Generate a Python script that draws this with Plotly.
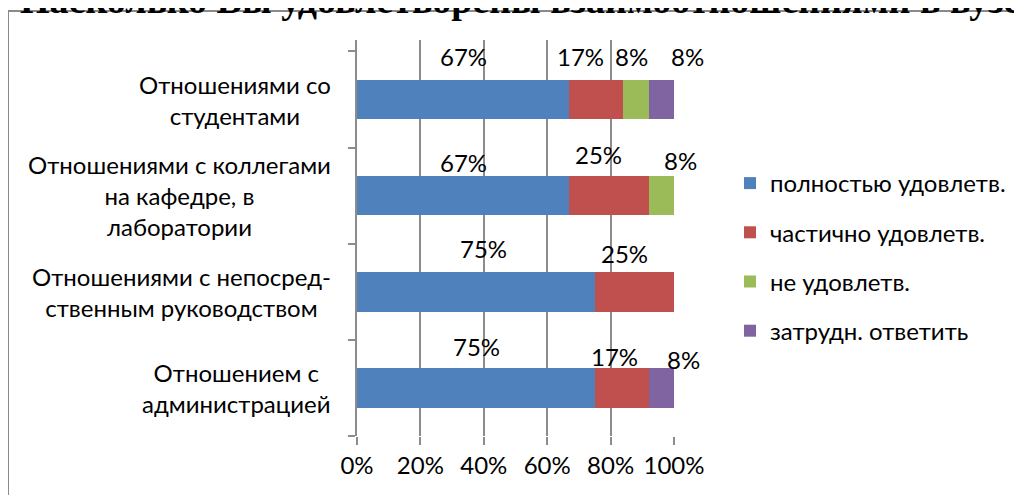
import plotly.graph_objects as go

categories = [
    "Отношениями со<br>студентами",
    "Отношениями с коллегами<br>на кафедре, в<br>лаборатории",
    "Отношениями с непосред-<br>ственным руководством",
    "Отношением с<br>администрацией",
]
series_names = ["полностью удовлетв.", "частично удовлетв.", "не удовлетв.", "затрудн. ответить"]
values = {
    "полностью удовлетв.": [67, 67, 75, 75],
    "частично удовлетв.": [17, 25, 25, 17],
    "не удовлетв.": [8, 8, 0, 0],
    "затрудн. ответить": [8, 0, 0, 8],
}
colors = ["#4F81BD", "#C0504D", "#9BBB59", "#8064A2"]
x_ticks = [0, 20, 40, 60, 80, 100]
x_tick_labels = ["0%", "20%", "40%", "60%", "80%", "100%"]
title_text = "Насколько Вы удовлетворены взаимоотношениями в вузе?"

# label offsets (style only): (xshift, yshift) per series per category
label_offsets = {
    "полностью удовлетв.": [(0, 43), (0, 33), (8, 43), (1, 41)],
    "частично удовлетв.": [(-16, 43), (-11, 41), (-10, 38), (-7, 31)],
    "не удовлетв.": [(-4, 43), (19, 35), (0, 0), (0, 0)],
    "затрудн. ответить": [(26, 43), (0, 0), (0, 0), (22, 28)],
}

FONT = "Lato"
# page body has an 8px margin; compensate so the plot area sits at x 357-674, y 40-436
OFF = 8
PL, PT, PW, PH = 357, 40, 317, 396

fig = go.Figure()
for name, col in zip(series_names, colors):
    fig.add_trace(go.Bar(
        y=categories, x=values[name], name=name, orientation="h",
        marker=dict(color=col, line=dict(width=0)),
        legendgroup=name,
    ))

annotations = []
cum = [0, 0, 0, 0]
for name in series_names:
    for i, cat in enumerate(categories):
        v = values[name][i]
        if v > 0:
            xs, ys = label_offsets[name][i]
            annotations.append(dict(
                x=cum[i] + v / 2, y=cat, xref="x", yref="y",
                text=f"{v}%", showarrow=False,
                xshift=xs, yshift=ys,
                font=dict(family=FONT, size=24, color="black"),
            ))
        cum[i] += v

for cat in categories:
    annotations.append(dict(
        x=0, y=cat, xref="paper", yref="y", text=cat, showarrow=False,
        xanchor="right", align="center", xshift=-24,
        font=dict(family=FONT, size=24, color="black"),
    ))

annotations.append(dict(
    x=(18 - PL) / PW, y=(PT + PH) / PH, xref="paper", yref="paper",
    text=f"<b>{title_text}</b>",
    showarrow=False, xanchor="left", yanchor="middle",
    font=dict(family="Liberation Serif", size=38, color="black"),
))

fig.update_layout(
    width=1022, height=495,
    margin=dict(l=PL - OFF, r=1022 - (PL - OFF) - PW, t=PT - OFF, b=495 - (PT - OFF) - PH),
    barmode="stack", bargap=0.59,
    paper_bgcolor="white", plot_bgcolor="white",
    showlegend=True,
    legend=dict(
        x=(730 - PL) / PW, y=(PT + PH - 257) / PH, xanchor="left", yanchor="middle",
        font=dict(family=FONT, size=24, color="black"),
        traceorder="grouped", tracegroupgap=15,
        itemwidth=30,
    ),
    annotations=annotations,
    shapes=[dict(
        type="rect", xref="paper", yref="paper",
        x0=(8 - PL) / PW, x1=(1040 - PL) / PW,
        y0=-0.2, y1=(PT + PH - 11) / PH,
        line=dict(color="#8a8a8a", width=2), layer="below",
    )],
)
fig.update_xaxes(
    range=[0, 100], tickvals=x_ticks, ticktext=x_tick_labels,
    showgrid=True, gridcolor="#8c8c8c", gridwidth=2,
    ticks="outside", ticklen=8, tickwidth=2, tickcolor="#8c8c8c",
    showline=False, zeroline=False,
    tickfont=dict(family=FONT, size=24, color="black"),
)
fig.update_yaxes(
    categoryorder="array", categoryarray=categories[::-1],
    showticklabels=False, showgrid=False,
    ticks="outside", ticklen=7, tickwidth=2, tickcolor="#8c8c8c",
    tickson="boundaries",
    showline=True, linecolor="#8c8c8c", linewidth=2,
)

fig.write_html("out.html")
